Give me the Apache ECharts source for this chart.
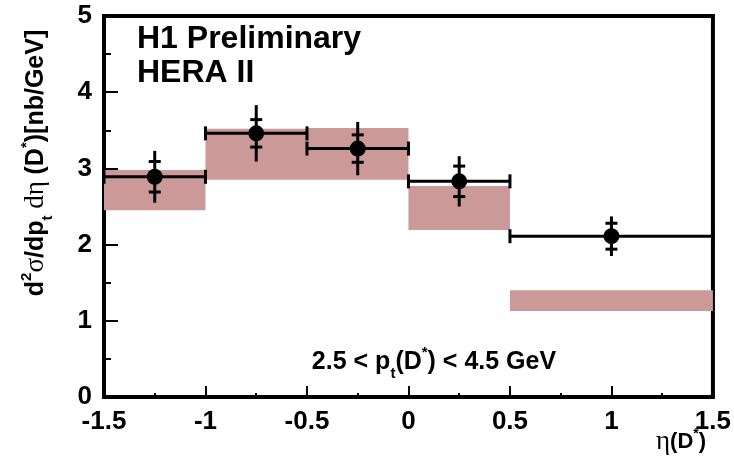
<!DOCTYPE html>
<html>
<head>
<meta charset="utf-8">
<script src="https://cdn.jsdelivr.net/npm/echarts@6/dist/echarts.min.js"></script>
<style>
  html, body { margin: 0; padding: 0; background: #fff; }
  #chart { width: 734px; height: 457px; }
</style>
</head>
<body>
<div id="chart"></div>
<script>
// D* cross section in bins of pseudorapidity
const etaLow    = [-1.5, -1.0, -0.5, 0.0, 0.5];
const etaHigh   = [-1.0, -0.5,  0.0, 0.5, 1.5];
const etaCenter = [-1.25, -0.75, -0.25, 0.25, 1.0];
const xsec      = [2.89, 3.46, 3.26, 2.83, 2.11];
const statErr   = [0.20, 0.18, 0.18, 0.20, 0.17];
const totalErr  = [0.34, 0.37, 0.35, 0.33, 0.26];
// theory prediction band (lower / upper edge per bin)
const theoryLow  = [2.45, 2.85, 2.85, 2.19, 1.13];
const theoryHigh = [2.98, 3.52, 3.53, 2.77, 1.40];
// axis ticks
const xTicks = { min: -1.5, max: 1.5, step: 0.5 };
const yTicks = { min: 0, max: 5, step: 1 };

const FONT = '"Liberation Sans", Arial, sans-serif';
const SERIF = '"Liberation Serif", "DejaVu Serif", serif';
const BAND = '#cc9999';

const chart = echarts.init(document.getElementById('chart'), null, { renderer: 'canvas' });

const bandData = etaLow.map((lo, i) => [lo, etaHigh[i], theoryLow[i], theoryHigh[i]]);
const errData = etaCenter.map((c, i) => [c, xsec[i], etaLow[i], etaHigh[i], statErr[i], totalErr[i]]);

// rich-text styles for a line with super/subscripts
function richStyles(size, small, gsize) {
  const LH = Math.round(size * 1.5);
  const supPad = Math.round(size * 0.08);
  return {
    b:   { font: 'bold ' + size + 'px ' + FONT, fill: '#000', lineHeight: LH, verticalAlign: 'middle' },
    g:   { font: gsize + 'px ' + SERIF, fill: '#000', lineHeight: LH, verticalAlign: 'middle' },
    sup: { font: 'bold ' + small + 'px ' + FONT, fill: '#000', lineHeight: small, verticalAlign: 'top',
           padding: [supPad, 0, 0, 0] },
    sub: { font: 'bold ' + small + 'px ' + FONT, fill: '#000', lineHeight: small, verticalAlign: 'bottom' }
  };
}

chart.setOption({
  animation: false,
  backgroundColor: '#fff',
  grid: {
    left: 104, right: 21, top: 16, bottom: 60,
    show: true, borderColor: '#000', borderWidth: 4, backgroundColor: 'transparent'
  },
  xAxis: {
    type: 'value', min: xTicks.min, max: xTicks.max, interval: xTicks.step,
    axisLine: { onZero: false, lineStyle: { color: '#000', width: 4 } },
    axisTick: { inside: true, length: 11, lineStyle: { color: '#000', width: 2 } },
    minorTick: { show: true, splitNumber: 2, length: 4, lineStyle: { color: '#000', width: 2 } },
    splitLine: { show: false },
    axisLabel: { color: '#000', fontFamily: FONT, fontWeight: 'bold', fontSize: 26, margin: 12,
                 showMinLabel: true, showMaxLabel: true }
  },
  yAxis: {
    type: 'value', min: yTicks.min, max: yTicks.max, interval: yTicks.step,
    axisLine: { onZero: false, lineStyle: { color: '#000', width: 4 } },
    axisTick: { inside: true, length: 14, lineStyle: { color: '#000', width: 2 } },
    minorTick: { show: true, splitNumber: 2, length: 7, lineStyle: { color: '#000', width: 2 } },
    splitLine: { show: false },
    axisLabel: { color: '#000', fontFamily: FONT, fontWeight: 'bold', fontSize: 26, margin: 12,
                 showMinLabel: true, showMaxLabel: true }
  },
  series: [
    {
      type: 'custom',
      name: 'theory',
      data: bandData,
      z: 1,
      renderItem: function (params, api) {
        const p1 = api.coord([api.value(0), api.value(3)]);
        const p2 = api.coord([api.value(1), api.value(2)]);
        return {
          type: 'rect',
          shape: { x: p1[0], y: p1[1], width: p2[0] - p1[0], height: p2[1] - p1[1] },
          style: { fill: BAND }
        };
      }
    },
    {
      type: 'custom',
      name: 'errors',
      data: errData,
      z: 3,
      renderItem: function (params, api) {
        const x = api.value(0), y = api.value(1);
        const lo = api.value(2), hi = api.value(3);
        const st = api.value(4), tot = api.value(5);
        const c = api.coord([x, y]);
        const l = api.coord([lo, y]);
        const r = api.coord([hi, y]);
        const top = api.coord([x, y + tot]);
        const bot = api.coord([x, y - tot]);
        const sUp = api.coord([x, y + st]);
        const sDn = api.coord([x, y - st]);
        const ls = { stroke: '#000', lineWidth: 3 };
        const cap = 7, tick = 6;
        return {
          type: 'group',
          children: [
            { type: 'line', shape: { x1: l[0], y1: c[1], x2: r[0], y2: c[1] }, style: ls },
            { type: 'line', shape: { x1: l[0], y1: c[1] - cap, x2: l[0], y2: c[1] + cap }, style: ls },
            { type: 'line', shape: { x1: r[0], y1: c[1] - cap, x2: r[0], y2: c[1] + cap }, style: ls },
            { type: 'line', shape: { x1: c[0], y1: top[1], x2: c[0], y2: bot[1] }, style: ls },
            { type: 'line', shape: { x1: c[0] - tick, y1: sUp[1], x2: c[0] + tick, y2: sUp[1] }, style: ls },
            { type: 'line', shape: { x1: c[0] - tick, y1: sDn[1], x2: c[0] + tick, y2: sDn[1] }, style: ls }
          ]
        };
      }
    },
    {
      type: 'scatter',
      name: 'data',
      z: 4,
      symbol: 'circle',
      symbolSize: 16,
      itemStyle: { color: '#000', opacity: 1 },
      data: etaCenter.map((c, i) => [c, xsec[i]])
    }
  ],
  graphic: [
    {
      type: 'text', left: 137, top: 23,
      style: { text: 'H1 Preliminary', font: 'bold 32px ' + FONT, fill: '#000' }
    },
    {
      type: 'text', left: 137, top: 57,
      style: { text: 'HERA II', font: 'bold 32px ' + FONT, fill: '#000' }
    },
    {
      type: 'text', x: 36, y: 163, rotation: Math.PI / 2,
      style: {
        text: '{b|d}{sup|2}{g|σ}{b|/dp}{sub|t}{g| dη }{b|(D}{sup|*}{b|)[nb/GeV]}',
        align: 'center', verticalAlign: 'middle',
        rich: richStyles(25, 15, 27)
      }
    },
    {
      type: 'text', x: 434, y: 362,
      style: {
        text: '{b|2.5 < p}{sub|t}{b|(D}{sup|*}{b|) < 4.5 GeV}',
        align: 'center', verticalAlign: 'middle',
        rich: richStyles(25, 15, 25)
      }
    },
    {
      type: 'text', x: 681, y: 442,
      style: {
        text: '{g|η}{b|(D}{sup|*}{b|)}',
        align: 'center', verticalAlign: 'middle',
        rich: richStyles(22, 14, 27)
      }
    }
  ]
});
</script>
</body>
</html>
